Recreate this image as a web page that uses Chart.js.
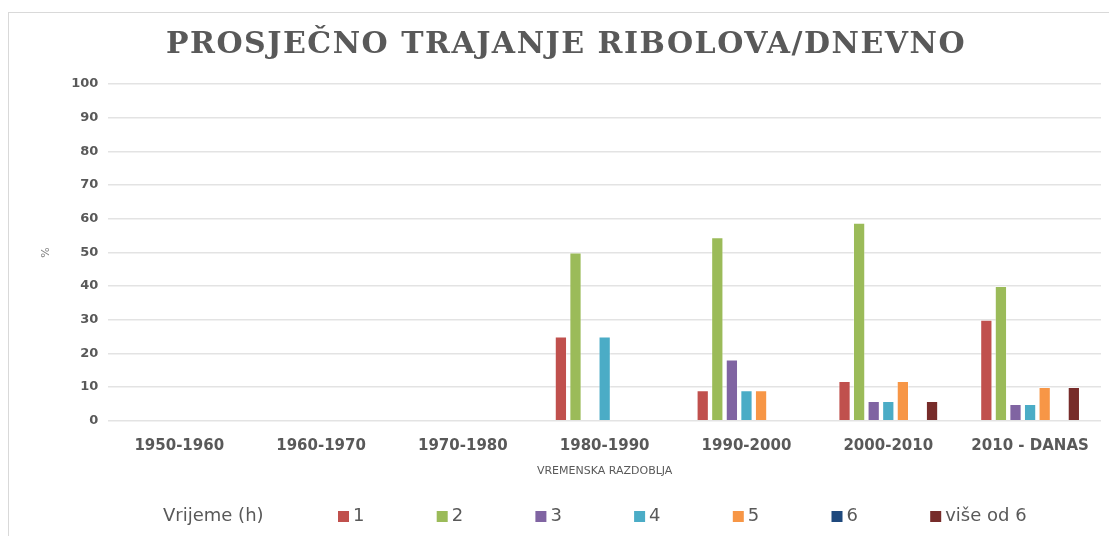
<!DOCTYPE html>
<html>
<head>
<meta charset="utf-8">
<script src="https://cdn.jsdelivr.net/npm/chart.js@4"></script>
<style>
  body { margin: 0; background: #fff; }
  #frame {
    position: absolute; left: 8px; top: 12px;
    width: 1100px; height: 523px;
    border: 1px solid #d9d9d9; border-right: none; border-bottom: none;
  }
  #wrap { position: absolute; left: 0; top: 0; width: 1100px; height: 523px; }
</style>
</head>
<body>
<div id="frame"><div id="wrap"><canvas id="barChart"></canvas></div></div>
<script>
const periods = ["1950-1960", "1960-1970", "1970-1980", "1980-1990", "1990-2000", "2000-2010", "2010 - DANAS"];
const seriesNames = ["1", "2", "3", "4", "5", "6", "više od 6"];
const colors = ["#c0504d", "#9bbb59", "#8064a2", "#4bacc6", "#f79646", "#1f497d", "#772c2a"];
const h1 = [null, null, null, 25, 9.1, 11.8, 30];
const h2 = [null, null, null, 50, 54.5, 58.8, 40];
const h3 = [null, null, null, null, 18.2, 5.9, 5];
const h4 = [null, null, null, 25, 9.1, 5.9, 5];
const h5 = [null, null, null, null, 9.1, 11.8, 10];
const h6 = [null, null, null, null, null, null, null];
const hMore = [null, null, null, null, null, 5.9, 10];
const yTicks = [0, 10, 20, 30, 40, 50, 60, 70, 80, 90, 100];

const allSeries = [h1, h2, h3, h4, h5, h6, hMore];
const grey = "#595959";
const chartTitle = "PROSJEČNO TRAJANJE RIBOLOVA/DNEVNO";
const legendTitle = "Vrijeme (h)";

// title with wide letter spacing + excel style legend (fixed slots)
const decorPlugin = {
  id: "decor",
  afterDraw(chart) {
    const ctx = chart.ctx;
    ctx.save();
    ctx.fillStyle = grey;
    ctx.font = "bold 30px 'DejaVu Serif'";
    ctx.letterSpacing = "1.5px";
    ctx.textAlign = "center";
    ctx.textBaseline = "alphabetic";
    ctx.fillText(chartTitle, 557, 40);
    ctx.letterSpacing = "0px";

    const y = 503;
    ctx.font = "18px 'DejaVu Sans'";
    ctx.textAlign = "left";
    ctx.textBaseline = "middle";
    ctx.fillText(legendTitle, 154, y);
    chart.data.datasets.forEach((ds, i) => {
      const x = 329 + i * 98.7;
      ctx.fillStyle = ds.backgroundColor;
      ctx.fillRect(x, y - 5, 11, 11);
      ctx.fillStyle = grey;
      ctx.fillText(ds.label, x + 15, y);
    });
    ctx.restore();
  },
};

/**
 * bar chart of fishing duration per period
 */
function drawChart() {
  const ctx = document.getElementById("barChart");
  new Chart(ctx, {
    type: "bar",
    data: {
      labels: periods,
      datasets: allSeries.map((values, i) => ({
        label: seriesNames[i],
        data: values,
        backgroundColor: colors[i],
        borderColor: "rgba(255,255,255,0.4)",
        borderWidth: 1,
        categoryPercentage: 0.72,
        barPercentage: 0.84,
      })),
    },
    plugins: [decorPlugin],
    options: {
      responsive: true,
      maintainAspectRatio: false,
      animation: false,
      layout: { padding: { left: 27, right: 8, top: 71, bottom: 58 } },
      plugins: {
        legend: { display: false },
        tooltip: { enabled: false },
      },
      scales: {
        x: {
          grid: { display: false },
          border: { display: false },
          ticks: { color: grey, font: { family: "DejaVu Sans", size: 15, weight: "bold" }, padding: 8 },
          title: {
            display: true,
            text: "VREMENSKA RAZDOBLJA",
            color: grey,
            font: { family: "DejaVu Sans", size: 11 },
            padding: { top: 2, bottom: 0 },
          },
        },
        y: {
          min: 0,
          max: 100,
          afterBuildTicks(axis) {
            axis.ticks = yTicks.map((v) => ({ value: v }));
          },
          grid: { color: "#e3e3e3", lineWidth: 1.5, drawTicks: false },
          border: { display: false },
          ticks: { color: grey, font: { family: "DejaVu Sans", size: 13, weight: "bold" }, padding: 10 },
          title: {
            display: true,
            text: "%",
            color: "#7f7f7f",
            font: { family: "DejaVu Sans", size: 11 },
            padding: { bottom: 8 },
          },
        },
      },
    },
  });
}

drawChart();
</script>
</body>
</html>
